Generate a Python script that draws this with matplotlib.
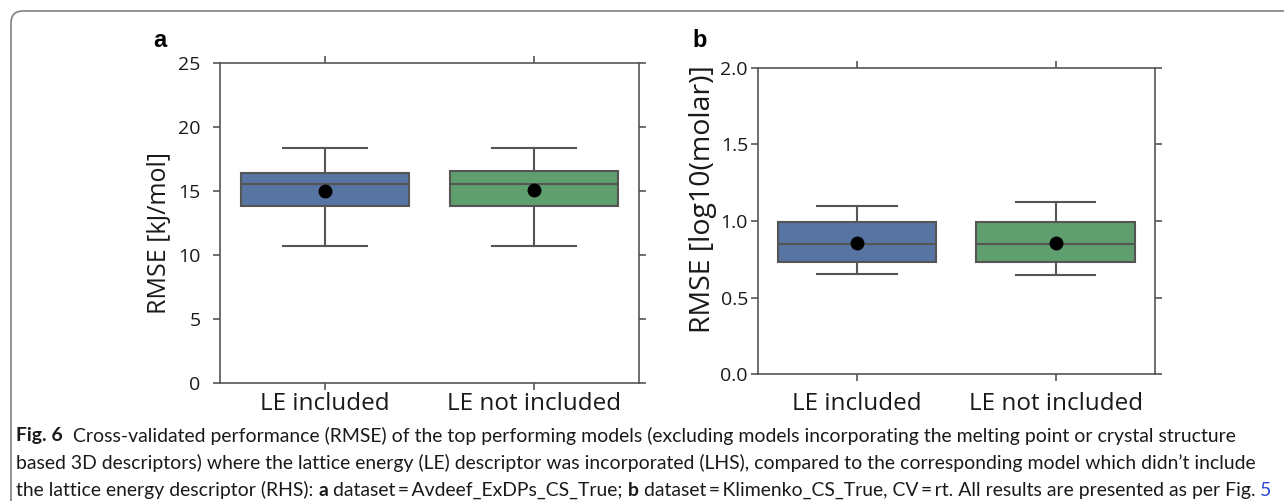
import matplotlib
matplotlib.use("Agg")
import matplotlib.pyplot as plt
from matplotlib.patches import FancyBboxPatch

# box summaries read per model: whiskers, quartiles, median and mean
categories = ["LE included", "LE not included"]

a_whislo = [10.73, 10.73]
a_q1 = [13.83, 13.83]
a_med = [15.57, 15.57]
a_q3 = [16.40, 16.53]
a_whishi = [18.36, 18.36]
a_mean = [15.02, 15.04]

b_whislo = [0.652, 0.648]
b_q1 = [0.730, 0.735]
b_med = [0.852, 0.852]
b_q3 = [0.991, 0.993]
b_whishi = [1.096, 1.126]
b_mean = [0.856, 0.856]

box_colors = ["#5874a3", "#5f9e6e"]
line_color = "#555555"
text_color = "#1a1a1a"

plt.rcParams["font.family"] = ["Open Sans", "DejaVu Sans"]

fig = plt.figure(figsize=(12.84, 5.01), dpi=100)

# journal frame (left and top edges with a rounded corner)
frame = FancyBboxPatch((0.11, -1.0), 14.0, 4.9 + 1.0,
                       boxstyle="round,pad=0,rounding_size=0.12",
                       transform=fig.dpi_scale_trans, fill=False,
                       edgecolor="#808080", linewidth=1.2, clip_on=False)
fig.patches.append(frame)


def make_stats(whislo, q1, med, q3, whishi, mean):
    stats = []
    for i in range(len(med)):
        stats.append({"whislo": whislo[i], "q1": q1[i], "med": med[i],
                      "q3": q3[i], "whishi": whishi[i], "mean": mean[i],
                      "fliers": []})
    return stats


def draw_panel(ax, stats, ylim, yticks, ylabel, ylabel_size, tick_fmt, xpad, ypad):
    bp = ax.bxp(stats, positions=range(len(stats)), widths=0.8,
                patch_artist=True, showmeans=True, showcaps=True,
                boxprops=dict(edgecolor=line_color, linewidth=1.5),
                medianprops=dict(color=line_color, linewidth=1.5),
                whiskerprops=dict(color=line_color, linewidth=1.5),
                capprops=dict(color=line_color, linewidth=1.5),
                meanprops=dict(marker="o", markerfacecolor="black",
                               markeredgecolor="black", markersize=9))
    for patch, c in zip(bp["boxes"], box_colors):
        patch.set_facecolor(c)
    for cap in bp["caps"]:
        x = cap.get_xdata()
        mid = (x[0] + x[1]) / 2
        cap.set_xdata([mid - 0.2, mid + 0.2])
    ax.set_xlim(-0.5, len(stats) - 0.5)
    ax.set_ylim(*ylim)
    ax.set_yticks(yticks)
    ax.set_yticklabels([tick_fmt.format(v) for v in yticks])
    ax.set_xticks(range(len(stats)))
    ax.set_xticklabels(categories)
    ax.tick_params(axis="both", direction="out", length=5, width=1.2,
                   color=line_color, top=True, right=True, labelsize=14,
                   labelcolor=text_color)
    ax.tick_params(axis="x", pad=xpad, labelsize=17.5)
    ax.tick_params(axis="y", pad=ypad)
    for s in ax.spines.values():
        s.set_color(line_color)
        s.set_linewidth(1.2)
    ax.set_ylabel(ylabel, fontsize=ylabel_size, color=text_color, va="center")


ax_a = fig.add_axes([0.1713, 0.2355, 0.3264, 0.6388])
draw_panel(ax_a, make_stats(a_whislo, a_q1, a_med, a_q3, a_whishi, a_mean),
           (0, 25), [0, 5, 10, 15, 20, 25], "RMSE [kJ/mol]", 18, "{:.0f}", 1.5, 9)
ax_a.yaxis.set_label_coords(-0.145, 0.47)

ax_b = fig.add_axes([0.5901, 0.2529, 0.3094, 0.6120])
draw_panel(ax_b, make_stats(b_whislo, b_q1, b_med, b_q3, b_whishi, b_mean),
           (0, 2.0), [0.0, 0.5, 1.0, 1.5, 2.0], "RMSE [log10(molar)]", 20.5, "{:.1f}", 8, 2)
ax_b.yaxis.set_label_coords(-0.138, 0.572)

fig.text(153 / 1284, 1 - 41 / 501, "a", fontsize=17, fontweight="bold",
         family=["Liberation Sans", "DejaVu Sans"], va="center")
fig.text(692 / 1284, 1 - 41 / 501, "b", fontsize=17, fontweight="bold",
         family=["Liberation Sans", "DejaVu Sans"], va="center")

# caption, written as runs so bold words and the link colour sit inline
caption_font = ["Lato", "DejaVu Sans"]
caption_lines = [
    [("Fig. 6", "bold", text_color),
     ("  Cross-validated performance (RMSE) of the top performing models (excluding models incorporating the melting point or crystal structure", "normal", text_color)],
    [("based 3D descriptors) where the lattice energy (LE) descriptor was incorporated (LHS), compared to the corresponding model which didn\u2019t include", "normal", text_color)],
    [("the lattice energy descriptor (RHS): ", "normal", text_color),
     ("a", "bold", text_color),
     (" dataset\u2009=\u2009Avdeef_ExDPs_CS_True; ", "normal", text_color),
     ("b", "bold", text_color),
     (" dataset\u2009=\u2009Klimenko_CS_True, CV\u2009=\u2009rt. All results are presented as per Fig. ", "normal", text_color),
     ("5", "normal", "#2b48d6")],
]
caption_y = [436, 463, 490]
caption_x0 = 16.0
caption_x1 = 1276.0

renderer = fig.canvas.get_renderer()


def line_width(runs, size):
    total = 0.0
    for text, weight, color in runs:
        t = fig.text(0, 0, text, fontsize=size, fontweight=weight, family=caption_font)
        total += t.get_window_extent(renderer).width
        t.remove()
    return total


# pick one font size so the longest line fits the caption width
widest = max(line_width(runs, 10) for runs in caption_lines)
caption_size = 10 * (caption_x1 - caption_x0) / widest

for runs, ypix in zip(caption_lines, caption_y):
    x = caption_x0
    for text, weight, color in runs:
        t = fig.text(x / 1284, 1 - ypix / 501, text, fontsize=caption_size,
                     fontweight=weight, color=color, family=caption_font,
                     va="center", ha="left")
        x += t.get_window_extent(renderer).width

fig.savefig("out.png", dpi=100)
